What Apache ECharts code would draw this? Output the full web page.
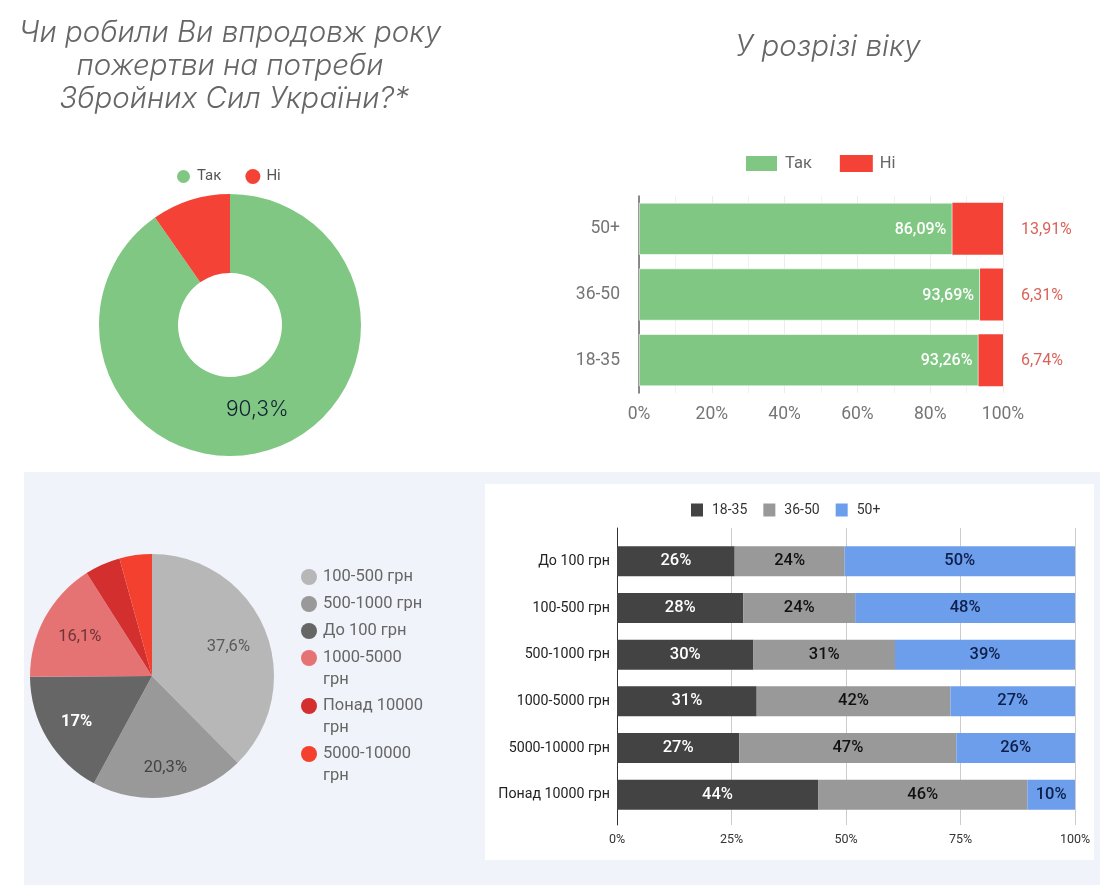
<!DOCTYPE html>
<html>
<head>
<meta charset="utf-8">
<style>
  html, body { margin: 0; padding: 0; background: #fff; }
  #panel { position: absolute; left: 24px; top: 472px; width: 1076px; height: 413px; background: #f1f3fa; }
  #inner { position: absolute; left: 485px; top: 484px; width: 609px; height: 376px; background: #fff; }
  #main { position: absolute; left: 0; top: 0; width: 1100px; height: 896px; }
</style>
<script src="https://cdn.jsdelivr.net/npm/echarts@6/dist/echarts.min.js"></script>
</head>
<body>
<div id="panel"></div>
<div id="inner"></div>
<div id="main"></div>
<script>
// donut
var answerNames = ['Так', 'Ні'];
var answerValues = [90.3, 9.7];

// stacked bars by age
var ageNames = ['50+', '36-50', '18-35'];
var ageYes = [86.09, 93.69, 93.26];
var ageNo = [13.91, 6.31, 6.74];

// pie of amounts
var amountNames = ['100-500 грн', '500-1000 грн', 'До 100 грн', '1000-5000 грн', 'Понад 10000 грн', '5000-10000 грн'];
var amountValues = [37.6, 20.3, 17, 16.1, 4.7, 4.3];

// stacked bars amount / age
var rowNames = ['До 100 грн', '100-500 грн', '500-1000 грн', '1000-5000 грн', '5000-10000 грн', 'Понад 10000 грн'];
var young = [25.7, 27.6, 29.8, 30.5, 26.7, 43.9];
var middle = [24, 24.4, 30.9, 42.3, 47.4, 45.7];
var older = [50.3, 48, 39.3, 27.2, 25.9, 10.4];

var GREEN = '#7fc782', RED = '#f44336';
var pieColors = ['#b7b7b7', '#999999', '#666666', '#e57373', '#d32f2f', '#f4412f'];
var pieLabelColors = ['#5a5a5a', '#444444', '#ffffff', '#703338', null, null];
var pieLabelNudge = [[-5, 4], [1, 5], [0, 1], [5, 3], [0, 0], [0, 0]];
var font = 'Roboto';

function comma(v) { return String(v).replace('.', ',') + '%'; }
function comma2(v) { return v.toFixed(2).replace('.', ',') + '%'; }
function rounded(p) { return Math.round(p.value) + '%'; }

var chart = echarts.init(document.getElementById('main'));

// legends for the pie: long names wrap on two lines, symbol stays on the first one
var legendRows = [577, 604, 631, 658, 706, 754];
var pieLegends = amountNames.map(function (name, i) {
  var wrapped = i > 2;
  return {
    data: [name],
    icon: 'circle',
    left: 301,
    top: wrapped ? legendRows[i] - 33 : legendRows[i] - 11,
    padding: 0,
    itemWidth: 16,
    itemHeight: 16,
    itemGap: 0,
    selectedMode: false,
    formatter: function (n) {
      if (!wrapped) return n;
      return '\n' + n.replace(' грн', '') + '\nгрн';
    },
    textStyle: { fontFamily: font, fontSize: 16.5, color: '#666', lineHeight: 22, padding: [0, 0, 0, 1] }
  };
});

var titleStyle = { fontFamily: 'Inter', fontStyle: 'italic', fontWeight: 300, fontSize: 29.5, color: '#666', lineHeight: 33 };

var option = {
  animation: false,
  title: [
    {
      text: 'Чи робили Ви впродовж року\nпожертви на потреби\n Збройних Сил України?*',
      left: 230, top: 17, padding: 0, textAlign: 'center', textStyle: titleStyle
    },
    {
      text: 'У розрізі віку',
      left: 828, top: 31, padding: 0, textAlign: 'center', textStyle: titleStyle
    }
  ],
  legend: [
    {
      data: answerNames, icon: 'circle', left: 175, top: 168, padding: 0,
      itemWidth: 15, itemHeight: 15, itemGap: 24, selectedMode: false,
      textStyle: { fontFamily: font, fontSize: 15, color: '#555', padding: [0, 0, 0, 1] }
    },
    {
      data: answerNames, icon: 'rect', left: 744, top: 154, padding: 0,
      itemWidth: 33, itemHeight: 17, itemGap: 28, selectedMode: false,
      textStyle: { fontFamily: font, fontSize: 16.5, color: '#666', padding: [0, 0, 0, 2] }
    },
    {
      data: ['18-35', '36-50', '50+'], icon: 'rect', left: 691, top: 503, padding: 0,
      itemWidth: 12, itemHeight: 13, itemGap: 16, selectedMode: false,
      textStyle: { fontFamily: font, fontSize: 14, color: '#333', padding: [0, 0, 0, 4] }
    }
  ].concat(pieLegends),
  grid: [
    { left: 639, top: 196, width: 364, height: 197 },
    { left: 617, top: 528, width: 458, height: 297 },
    { left: 617, top: 538, width: 458, height: 280 }
  ],
  xAxis: [
    {
      gridIndex: 0, type: 'value', min: 0, max: 100, interval: 20,
      axisLine: { show: false }, axisTick: { show: false },
      axisLabel: { formatter: '{value}%', fontFamily: font, fontSize: 17.5, color: '#757575', margin: 13 },
      splitLine: { show: true, lineStyle: { color: '#ececec' } },
      minorTick: { show: false, splitNumber: 2 },
      minorSplitLine: { show: true, lineStyle: { color: '#f1f1f1' } }
    },
    {
      gridIndex: 1, type: 'value', min: 0, max: 100, interval: 25,
      axisLine: { show: false }, axisTick: { show: false },
      axisLabel: { formatter: '{value}%', fontFamily: font, fontSize: 12.5, color: '#333', margin: 8 },
      splitLine: { show: true, lineStyle: { color: '#cccccc' } }
    },
    { gridIndex: 2, type: 'value', min: 0, max: 100, show: false }
  ],
  yAxis: [
    {
      gridIndex: 0, type: 'category', data: ageNames, inverse: true,
      axisLine: { show: true, lineStyle: { color: '#666', width: 1.5 } }, axisTick: { show: false },
      axisLabel: { fontFamily: font, fontSize: 17.5, color: '#757575', margin: 19, padding: [3, 0, 0, 0] }
    },
    {
      gridIndex: 1, type: 'category', data: [],
      axisLine: { show: true, lineStyle: { color: '#333' } }, axisTick: { show: false }, axisLabel: { show: false }
    },
    {
      gridIndex: 2, type: 'category', data: rowNames, inverse: true,
      axisLine: { show: false }, axisTick: { show: false },
      axisLabel: { fontFamily: font, fontSize: 14.2, color: '#222', margin: 7 }
    }
  ],
  series: [
    {
      type: 'pie', name: 'answers', center: [230, 325], radius: [52, 131], startAngle: 90,
      clockwise: true, silent: true,
      data: answerNames.map(function (n, i) {
        return {
          name: n, value: answerValues[i],
          itemStyle: { color: i === 0 ? GREEN : RED },
          label: i === 0
            ? { show: true, position: 'inside', formatter: function (p) { return comma(p.value); }, fontFamily: 'Inter', fontWeight: 300, fontSize: 21, color: '#123', offset: [-1, -5] }
            : { show: false }
        };
      })
    },
    {
      type: 'pie', name: 'amounts', center: [152, 676], radius: [0, 122], startAngle: 90, silent: true,
      label: { show: false },
      data: amountNames.map(function (n, i) {
        return { name: n, value: amountValues[i], itemStyle: { color: pieColors[i] } };
      })
    },
    {
      // transparent ring, only to put the labels further out than the middle of the radius
      type: 'pie', name: 'amountLabels', center: [152, 676], radius: [48, 122], startAngle: 90, silent: true,
      itemStyle: { color: 'transparent' },
      data: amountNames.map(function (n, i) {
        return {
          name: n, value: amountValues[i],
          label: pieLabelColors[i]
            ? { show: true, position: 'inside', offset: pieLabelNudge[i], formatter: function (p) { return comma(p.value); }, fontFamily: font, fontSize: 16.5, fontWeight: i === 2 ? 700 : 400, color: pieLabelColors[i] }
            : { show: false }
        };
      })
    },
    {
      type: 'bar', name: 'Так', xAxisIndex: 0, yAxisIndex: 0, stack: 'age', barWidth: 52, data: ageYes,
      itemStyle: { color: GREEN, borderColor: '#fff', borderWidth: 0.6 },
      label: { show: true, position: 'insideRight', distance: 6, offset: [0, 1], formatter: function (p) { return comma2(p.value); }, fontFamily: font, fontSize: 16, fontWeight: 500, color: '#fff' }
    },
    {
      type: 'bar', name: 'Ні', xAxisIndex: 0, yAxisIndex: 0, stack: 'age', barWidth: 52, data: ageNo,
      itemStyle: { color: RED },
      label: { show: true, position: 'right', distance: 18, offset: [0, 1], formatter: function (p) { return comma2(p.value); }, fontFamily: font, fontSize: 16, color: '#d9635a' }
    },
    {
      type: 'bar', name: '18-35', xAxisIndex: 2, yAxisIndex: 2, stack: 'rows', barWidth: 30, data: young,
      itemStyle: { color: '#434343' },
      label: { show: true, position: 'inside', formatter: rounded, fontFamily: font, fontSize: 16.5, fontWeight: 500, color: '#fff' }
    },
    {
      type: 'bar', name: '36-50', xAxisIndex: 2, yAxisIndex: 2, stack: 'rows', barWidth: 30, data: middle,
      itemStyle: { color: '#999999' },
      label: { show: true, position: 'inside', formatter: rounded, fontFamily: font, fontSize: 16.5, fontWeight: 500, color: '#111' }
    },
    {
      type: 'bar', name: '50+', xAxisIndex: 2, yAxisIndex: 2, stack: 'rows', barWidth: 30, data: older,
      itemStyle: { color: '#6d9eeb' },
      label: { show: true, position: 'inside', formatter: rounded, fontFamily: font, fontSize: 16.5, fontWeight: 500, color: '#0d1f4a' }
    }
  ]
};

chart.setOption(option);
window.onresize = function () { chart.resize(); };
</script>
</body>
</html>
